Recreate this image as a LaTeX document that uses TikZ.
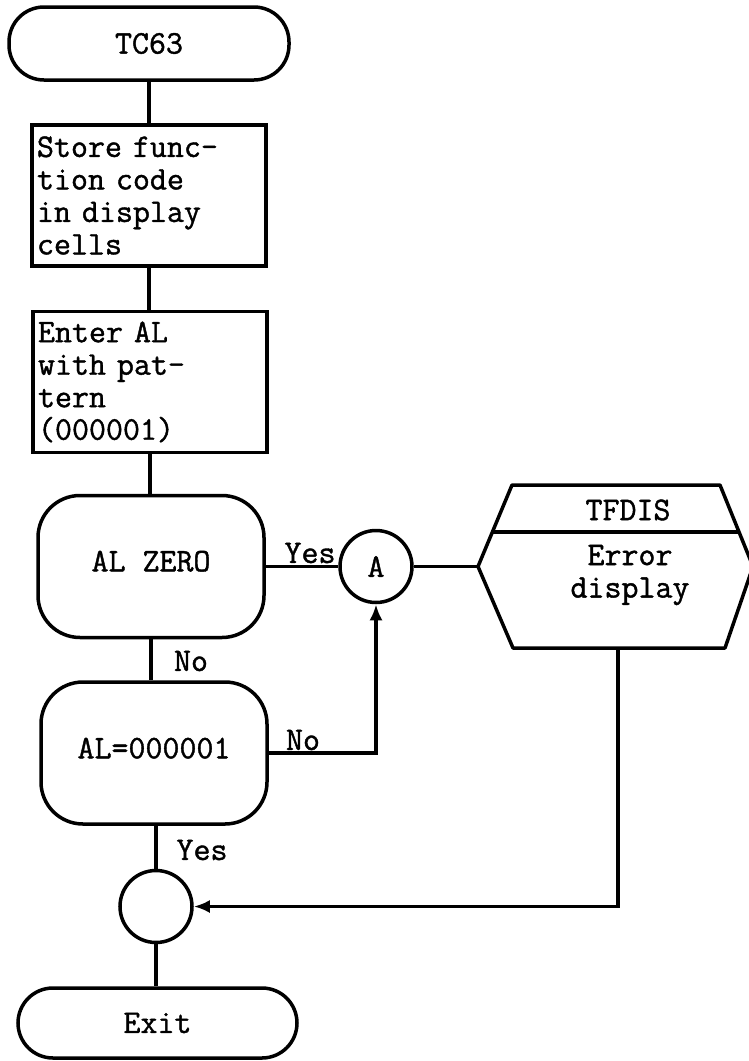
\documentclass[tikz,border=0pt]{standalone}
\usepackage{fontspec}
\newfontfamily\tw{Latin Modern Mono}[FakeBold=1.2]
\usetikzlibrary{arrows.meta,calc}
\begin{document}
\begin{tikzpicture}[x=1pt,y=-1pt,
  every node/.style={font=\tw\fontsize{33}{32.5}\selectfont, inner sep=0pt},
  ln/.style={line width=3.5pt},
  arr/.style={line width=3.5pt,-{Latex[length=16pt,width=13pt]}},
  term/.style={draw, line width=3.5pt, rounded corners=35pt, minimum width=280pt, minimum height=73pt},
  proc/.style={draw, line width=3.5pt, minimum width=234pt, minimum height=141pt, text width=224pt, inner sep=5pt, align=left},
  dec/.style={draw, line width=3.5pt, rounded corners=42pt, minimum width=226pt, minimum height=142pt},
  conn/.style={draw, line width=3.5pt, circle, minimum size=72pt},
  lbl/.style={}]
\useasboundingbox (0,0) rectangle (748,1061);
\fill[white] (0,0) rectangle (748,1061);

\node[term] (tc63) at (149,43.5) {TC63};
\node[proc] (store) at (149,195.5) {Store func-\\tion code\\in display\\cells};
\node[proc] (enter) at (150,382) {Enter AL\\with pat-\\tern\\(000001)};
\node[dec] (alzero) at (151,566.5) {\raisebox{11pt}{AL ZERO}};
\node[dec] (aleq) at (154,753) {\raisebox{10pt}{AL=000001}};
\node[conn] (A) at (376,566.5) {A};
\node[conn] (merge) at (156,906.5) {};
\node[term, minimum width=279pt, minimum height=70pt] (exit) at (157.5,1023) {Exit};

% hexagon TFDIS
\coordinate (hL) at (478,566.5);
\coordinate (hB) at (618,648);
\draw[ln, line join=round] (512,485) -- (720,485) -- (753,566.5) -- (725,648) -- (513,648) -- (hL) -- cycle;
\draw[ln] (492,532) -- (739,532);
\node (tfdis) at (628,510) {TFDIS};
\node[align=center] (err) at (630,575) {Error\\display};

% connectors
\draw[ln] (tc63.south) -- (tc63.south |- store.north);
\draw[ln] (store.south) -- (store.south |- enter.north);
\draw[ln] (enter.south) -- (enter.south |- alzero.north);
\draw[ln] (alzero.south) -- (alzero.south |- aleq.north);
\draw[ln] (alzero.east) -- (A.west);
\draw[ln] (A.east) -- (hL);
\draw[arr] (aleq.east) -- (A.south |- aleq.east) -- (A.south);
\draw[ln] (merge.north |- aleq.south) -- (merge.north);
\draw[ln] (merge.south) -- (merge.south |- exit.north);
\draw[arr] (hB) -- (hB |- merge.east) -- (merge.east);

% labels
\node[lbl] (y1) at (310,553) {Yes};
\node[lbl] (n1) at (191,661) {No};
\node[lbl] (n2) at (303,740) {No};
\node[lbl] (y2) at (202,850) {Yes};
\end{tikzpicture}
\end{document}
